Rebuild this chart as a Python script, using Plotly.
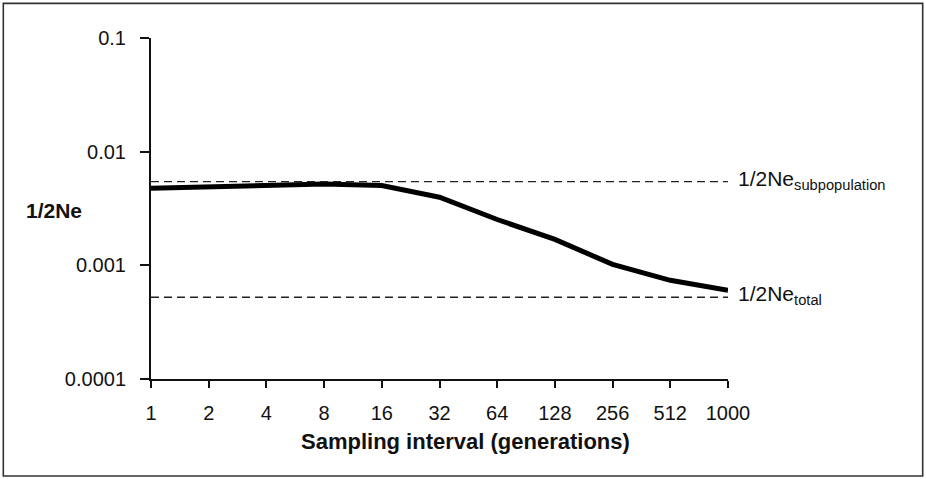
import math
import plotly.graph_objects as go

# ---- data ----
intervals = ["1", "2", "4", "8", "16", "32", "64", "128", "256", "512", "1000"]
inv_2ne = [0.00477, 0.00489, 0.00514, 0.00519, 0.00503, 0.00397,
           0.00253, 0.00169, 0.00102, 0.000738, 0.000604]
ne_sub_level = 0.00545
ne_total_level = 0.000524
ytick_vals = [0.0001, 0.001, 0.01, 0.1]
ytick_text = ["0.0001", "0.001", "0.01", "0.1"]

FONT = "Liberation Sans, Arial, sans-serif"

W, H = 926, 479
L, R, T, B = 151, 198, 38, 99.5
pw, ph = W - L - R, H - T - B


def px_x(x):
    return (x - L) / pw


def px_y(y):
    return (H - B - y) / ph


fig = go.Figure()

fig.add_trace(go.Scatter(
    x=intervals, y=inv_2ne, mode="lines",
    line=dict(color="#000", width=5),
    showlegend=False))
fig.add_trace(go.Scatter(
    x=[intervals[0], intervals[-1]], y=[ne_sub_level, ne_sub_level],
    mode="lines", line=dict(color="#222", width=1.3, dash="8px,5px"),
    hoverinfo="skip", showlegend=False))
fig.add_trace(go.Scatter(
    x=[intervals[0], intervals[-1]], y=[ne_total_level, ne_total_level],
    mode="lines", line=dict(color="#222", width=1.3, dash="8px,5px"),
    hoverinfo="skip", showlegend=False))

fig.update_layout(
    width=W, height=H,
    margin=dict(l=L, r=R, t=T, b=B, pad=0),
    paper_bgcolor="white", plot_bgcolor="white",
    font=dict(family=FONT, color="#111", size=20),
    xaxis=dict(type="category", categoryorder="array", categoryarray=intervals,
               range=[0, 10], showgrid=False, zeroline=False,
               showline=True, linecolor="#111", linewidth=2,
               ticks="outside", ticklen=7, tickwidth=2, tickcolor="#111",
               tickfont=dict(size=20, family=FONT, color="#111"),
               ticklabelstandoff=8),
    yaxis=dict(type="log", range=[-4, -1], showgrid=False, zeroline=False,
               showline=True, linecolor="#111", linewidth=2,
               ticks="outside", ticklen=9, tickwidth=2, tickcolor="#111",
               tickvals=ytick_vals, ticktext=ytick_text,
               tickfont=dict(size=20, family=FONT, color="#111"),
               ticklabelstandoff=10),
)

fig.add_annotation(x=1, y=math.log10(ne_sub_level), xref="paper", yref="y",
                   text="1/2Ne<sub>subpopulation</sub>", showarrow=False,
                   xanchor="left", yanchor="middle", xshift=8, yshift=2,
                   font=dict(size=21, family=FONT, color="#111"))
fig.add_annotation(x=1, y=math.log10(ne_total_level), xref="paper", yref="y",
                   text="1/2Ne<sub>total</sub>", showarrow=False,
                   xanchor="left", yanchor="middle", xshift=8, yshift=2,
                   font=dict(size=21, family=FONT, color="#111"))

fig.add_annotation(x=px_x(54), y=px_y(211), xref="paper", yref="paper",
                   text="<b>1/2Ne</b>", showarrow=False,
                   xanchor="center", yanchor="middle",
                   font=dict(size=21, family=FONT, color="#111"))
fig.add_annotation(x=px_x(465), y=px_y(442), xref="paper", yref="paper",
                   text="<b>Sampling interval (generations)</b>", showarrow=False,
                   xanchor="center", yanchor="middle",
                   font=dict(size=22, family=FONT, color="#111"))

fig.add_shape(type="rect", xref="paper", yref="paper",
              x0=px_x(3.3), x1=px_x(922.7), y0=px_y(476.7), y1=px_y(3.3),
              line=dict(color="#333", width=1.6), fillcolor="rgba(0,0,0,0)",
              layer="below")

fig.write_html("out.html", config={"displayModeBar": False},
               post_script="document.body.style.margin='0px';document.body.style.overflow='hidden';")
